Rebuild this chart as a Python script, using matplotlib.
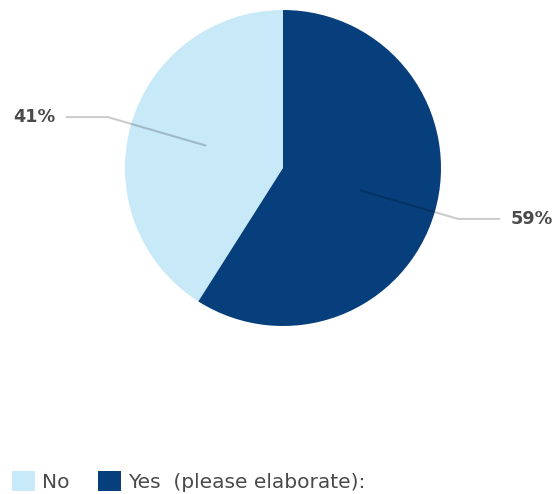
import numpy as np
import matplotlib
matplotlib.use('Agg')
import matplotlib.pyplot as plt
from matplotlib.patches import Patch

# data
categories = ['No', 'Yes  (please elaborate):']
shares = [41, 59]
pct_labels = ['41%', '59%']
colors = ['#c7e9f8', '#063f7b']
text_color = '#4a4a4a'

fig = plt.figure(figsize = (5.55, 4.94), dpi = 100)
# pie axes: centre ~ (283, 168) px, radius ~158 px
ax = fig.add_axes([125 / 555, 1 - 326 / 494, 316 / 555, 316 / 494])

wedges, _ = ax.pie(shares, colors = colors, startangle = 90,
                   counterclock = True, radius = 1,
                   wedgeprops = dict(linewidth = 0))
ax.set_xlim(-1, 1)
ax.set_ylim(-1, 1)
ax.set_aspect('equal')
ax.axis('off')

# leader lines + labels
for w, lab in zip(wedges, pct_labels):
    mid = np.deg2rad((w.theta1 + w.theta2) / 2)
    cx, cy = np.cos(mid), np.sin(mid)
    side = np.sign(cx)
    p0 = (0.51 * cx, 0.51 * cy)
    p1 = (1.155 * cx, 1.155 * cy)
    p2 = (1.37 * side, 1.155 * cy)
    ax.plot([p0[0], p1[0], p2[0]], [p0[1], p1[1], p2[1]],
            color = 'black', alpha = 0.2, linewidth = 1.5,
            clip_on = False, solid_capstyle = 'round')
    ax.text(p2[0] + 0.07 * side, p2[1], lab,
            ha = 'left' if side > 0 else 'right', va = 'center',
            fontsize = 12.7, fontweight = 'bold', color = text_color)

handles = [Patch(facecolor = c, edgecolor = 'none') for c in colors]
fig.legend(handles, categories, loc = 'lower left',
           bbox_to_anchor = (12 / 555, 2 / 494), ncol = 2, frameon = False,
           borderpad = 0, borderaxespad = 0,
           handlelength = 1.15, handleheight = 1.1, handletextpad = 0.35,
           columnspacing = 1.4, fontsize = 14.5, labelcolor = text_color)

plt.savefig('out.png', dpi = 100)
